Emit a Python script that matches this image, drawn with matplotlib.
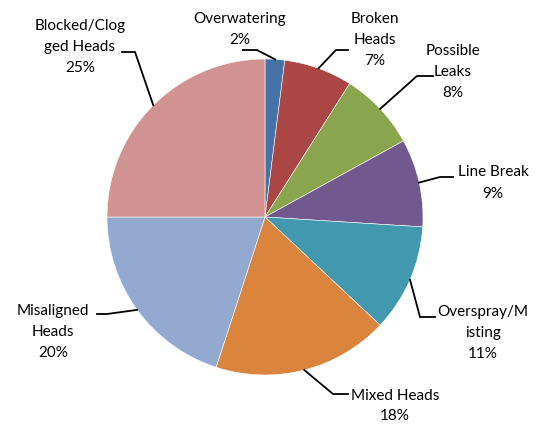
import numpy as np
import matplotlib
matplotlib.use("Agg")
import matplotlib.pyplot as plt

categories = ["Overwatering", "Broken Heads", "Possible Leaks", "Line Break",
              "Overspray/Misting", "Mixed Heads", "Misaligned Heads", "Blocked/Clogged Heads"]
values = [2, 7, 8, 9, 11, 18, 20, 25]
display_labels = ["Overwatering", "Broken\nHeads", "Possible\nLeaks", "Line Break",
                  "Overspray/M\nisting", "Mixed Heads", "Misaligned\nHeads", "Blocked/Clog\nged Heads"]
colors = ["#4572A7", "#AA4643", "#89A54E", "#71588F", "#4198AF", "#DB843D", "#93A9CF", "#D19392"]

W, H = 543, 424
fig = plt.figure(figsize=(W / 100, H / 100), dpi=100)
ax = fig.add_axes([0, 0, 1, 1])

cx, cy, R = 265, H - 217, 158
wedges, _ = ax.pie(values, colors=colors, startangle=90, counterclock=False,
                   center=(cx, cy), radius=R,
                   wedgeprops=dict(edgecolor="white", linewidth=0.4))
ax.set_xlim(0, W)
ax.set_ylim(0, H)
ax.set_aspect("equal")
ax.axis("off")

# label layout (pixel coords, y from top): text center x, block center y, leader start, elbow
layout = [
    (240, 29, (243, 50), (257, 50)),
    (375, 40, (348, 50), (336, 50)),
    (453, 72, (433, 76), (417, 76)),
    (493, 183, (453, 177), (440, 177)),
    (483, 333, (435, 317), (420, 317)),
    (395, 406, (348, 394), (333, 394)),
    (53, 332, (97, 314), (107, 314)),
    (80, 47, (122, 52), (135, 52)),
]
line_h = 21
for w, lab, v, (tx, ty, p0, p1) in zip(wedges, display_labels, values, layout):
    lines = lab.split("\n") + [f"{v}%"]
    n = len(lines)
    for i, s in enumerate(lines):
        yy = ty + (i - (n - 1) / 2) * line_h
        ax.text(tx, H - yy, s, ha="center", va="center", fontsize=11,
                family="Lato", color="black")
    mid = np.deg2rad((w.theta1 + w.theta2) / 2)
    ex, ey = cx + R * np.cos(mid), cy + R * np.sin(mid)
    ax.plot([p0[0], p1[0], ex], [H - p0[1], H - p1[1], ey], color="black", lw=1.3,
            solid_joinstyle="miter")

fig.savefig("out.png", dpi=100)
